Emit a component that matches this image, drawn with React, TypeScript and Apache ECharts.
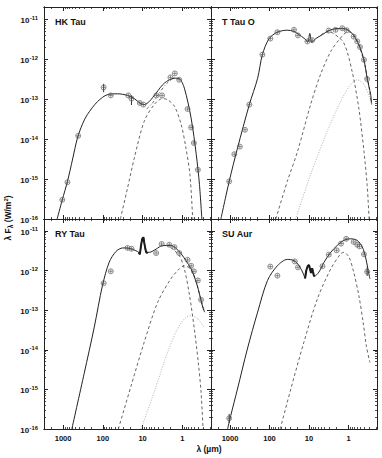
import React, { useEffect, useRef } from 'react';
import * as echarts from 'echarts';

// All values are [log10(λ / µm), log10(λFλ / W m^-2)]
const hkTauTotal = [
  [3.15, -16.0], [3.02, -15.52], [2.89, -15.06], [2.76, -14.5], [2.64, -13.98], [2.51, -13.62],
  [2.39, -13.39], [2.13, -13.06], [1.88, -12.89], [1.63, -12.87], [1.38, -12.91], [1.21, -12.99],
  [1.04, -13.12], [0.96, -13.14], [0.83, -13.06], [0.66, -12.85], [0.45, -12.6], [0.2, -12.48],
  [0.08, -12.49], [-0.05, -12.73], [-0.22, -13.48], [-0.35, -14.39], [-0.43, -15.14], [-0.49, -16.0],
];
const hkTauDisk = [
  [1.56, -16.0], [1.38, -15.23], [1.21, -14.48], [0.96, -13.56], [0.71, -13.14], [0.5, -12.99],
  [0.37, -13.02], [0.2, -13.18], [0.03, -13.64], [-0.09, -14.23], [-0.19, -14.89], [-0.26, -16.0],
];
const hkTauStar = [
  [0.9, -13.25], [0.75, -13.1], [0.6, -12.88], [0.4, -12.62], [0.2, -12.48], [0.05, -12.52],
];
const hkTauPoints = [
  [3.02, -15.52], [2.89, -15.08], [2.62, -13.92], [1.98, -12.71], [1.8, -12.91], [1.36, -12.91],
  [1.28, -12.99], [1.07, -13.1], [0.98, -13.14], [0.65, -12.91], [0.51, -12.91], [0.3, -12.46],
  [0.19, -12.36], [0.08, -12.52], [-0.13, -13.25], [-0.22, -13.71], [-0.29, -14.1], [-0.39, -14.77],
];
const hkTauErrors = [[1.98, -12.62, -12.83], [1.28, -12.91, -13.15]];

const tTauTotal = [
  [3.23, -16.0], [3.02, -15.06], [2.81, -14.23], [2.51, -13.14], [2.3, -12.48], [2.18, -11.89],
  [2.01, -11.49], [1.8, -11.33], [1.55, -11.28], [1.38, -11.31], [1.25, -11.39], [1.13, -11.48],
  [1.08, -11.52], [1.03, -11.58], [0.98, -11.36], [0.93, -11.58], [0.83, -11.49], [0.66, -11.39],
  [0.5, -11.29], [0.29, -11.24], [0.12, -11.24], [-0.01, -11.29], [-0.13, -11.41], [-0.26, -11.64],
  [-0.39, -12.02], [-0.47, -12.48], [-0.56, -12.89], [-0.58, -13.1],
];
const tTauStar = [
  [1.84, -16.0], [1.55, -15.06], [1.29, -14.31], [0.96, -13.14], [0.71, -12.39], [0.45, -11.81],
  [0.24, -11.52], [0.08, -11.35], [-0.05, -11.33], [-0.22, -11.56], [-0.39, -12.06], [-0.51, -12.64],
  [-0.58, -13.14],
];
const tTauEnvelope = [
  [0.7, -11.4], [0.55, -11.32], [0.4, -11.35], [0.12, -11.6], [-0.09, -12.31], [-0.26, -13.23],
  [-0.39, -14.31], [-0.47, -15.14], [-0.52, -16.0],
];
const tTauDotted = [
  [1.34, -16.0], [0.96, -14.89], [0.54, -13.81], [0.2, -13.06], [-0.05, -12.64], [-0.22, -12.52],
  [-0.39, -12.64], [-0.6, -13.14],
];
const tTauPoints = [
  [3.02, -15.06], [2.89, -14.38], [2.75, -14.19], [2.62, -13.77], [2.51, -13.14], [2.18, -11.89],
  [1.98, -11.49], [1.8, -11.33], [1.38, -11.27], [1.28, -11.41], [1.04, -11.56], [0.92, -11.53],
  [0.5, -11.29], [0.33, -11.27], [0.16, -11.23], [0.05, -11.28], [-0.13, -11.44], [-0.22, -11.56],
  [-0.29, -11.7], [-0.39, -12.02], [-0.47, -12.5],
];

const ryTauTotal = [
  [2.78, -16.0], [2.47, -14.6], [2.22, -13.45], [2.01, -12.38], [1.84, -11.79], [1.67, -11.52],
  [1.5, -11.43], [1.34, -11.44], [1.17, -11.5], [1.1, -11.54], [1.07, -11.59], [1.04, -11.37],
  [1.01, -11.2], [0.98, -11.16], [0.96, -11.29], [0.93, -11.46], [0.91, -11.54], [0.83, -11.54],
  [0.66, -11.46], [0.5, -11.37], [0.29, -11.37], [0.16, -11.44], [0.03, -11.58], [-0.09, -11.75],
  [-0.22, -11.96], [-0.35, -12.3], [-0.45, -12.67], [-0.51, -12.92], [-0.56, -13.05],
];
const ryTauFeature = [
  [1.1, -11.54], [1.07, -11.59], [1.04, -11.37], [1.01, -11.2], [0.98, -11.16], [0.96, -11.29],
  [0.93, -11.46], [0.91, -11.54], [0.87, -11.56],
];
const ryTauStar = [
  [1.61, -16.0], [1.29, -14.91], [0.96, -13.81], [0.62, -12.8], [0.29, -12.21], [0.08, -11.96],
  [-0.05, -11.88], [-0.22, -11.98], [-0.35, -12.3], [-0.45, -12.67], [-0.56, -13.05],
];
const ryTauEnvelope = [
  [0.3, -11.42], [0.08, -11.62], [-0.05, -11.96], [-0.18, -12.63], [-0.3, -13.47], [-0.4, -14.32],
  [-0.47, -15.07], [-0.52, -16.0],
];
const ryTauDotted = [
  [1.04, -16.0], [0.71, -15.07], [0.37, -14.06], [0.12, -13.47], [-0.09, -13.18], [-0.22, -13.14],
  [-0.39, -13.22], [-0.54, -13.43],
];
const ryTauPoints = [
  [1.98, -12.32], [1.8, -12.02], [1.38, -11.43], [1.28, -11.45], [0.66, -11.56], [0.52, -11.33],
  [0.33, -11.35], [0.2, -11.41], [0.08, -11.56], [-0.13, -11.73], [-0.22, -11.88], [-0.29, -12.02],
  [-0.39, -12.25], [-0.47, -12.74],
];

const suAurTotal = [
  [3.06, -16.0], [2.98, -15.66], [2.81, -14.99], [2.56, -13.98], [2.3, -13.05], [2.05, -12.25],
  [1.8, -11.88], [1.55, -11.72], [1.38, -11.75], [1.25, -11.88], [1.14, -12.09], [1.1, -12.2],
  [1.07, -12.0], [1.03, -11.88], [1.0, -11.86], [0.975, -11.96], [0.95, -12.06], [0.92, -11.94],
  [0.9, -12.03], [0.87, -12.15], [0.75, -12.04], [0.62, -11.79], [0.45, -11.54], [0.29, -11.37],
  [0.12, -11.24], [-0.05, -11.2], [-0.22, -11.24], [-0.35, -11.41], [-0.43, -11.66], [-0.49, -11.96],
  [-0.54, -12.21],
];
const suAurFeature = [
  [1.1, -12.2], [1.07, -12.0], [1.03, -11.88], [1.0, -11.86], [0.975, -11.96], [0.95, -12.06],
  [0.92, -11.94], [0.9, -12.03], [0.87, -12.15],
];
const suAurStar = [
  [1.73, -16.0], [1.46, -14.99], [1.13, -13.81], [0.79, -12.72], [0.45, -11.96], [0.2, -11.58],
  [0.12, -11.54], [-0.01, -11.66], [-0.13, -12.04], [-0.26, -12.63], [-0.37, -13.31], [-0.45, -13.9],
  [-0.54, -14.32],
];
const suAurPoints = [
  [3.02, -15.73], [1.98, -11.9], [1.8, -12.13], [1.36, -11.77], [1.28, -11.92], [0.66, -11.89],
  [0.5, -11.6], [0.3, -11.49], [0.19, -11.32], [0.06, -11.2], [-0.13, -11.28], [-0.22, -11.35],
  [-0.28, -11.39], [-0.39, -11.59], [-0.47, -12.03],
];
const suAurErrors = [[3.02, -15.62, -15.85], [-0.47, -11.92, -12.14]];

const xTickValues = [0, 1, 2, 3];
const xTickLabels = ['1', '10', '100', '1000'];
const yTickValues = [-16, -15, -14, -13, -12, -11];
const panelNames = ['HK Tau', 'T Tau O', 'RY Tau', 'SU Aur'];

const X_MIN = -0.72;
const X_MAX = 3.48;
const Y_MIN = -16;
const Y_MAX = -10.7;
const FONT = '"Liberation Sans", Arial, Helvetica, sans-serif';

function minorTicks(min: number, max: number) {
  const out: number[] = [];
  for (let d = Math.floor(min) - 1; d <= Math.ceil(max); d++) {
    for (let k = 2; k <= 9; k++) {
      const v = d + Math.log10(k);
      if (v > min && v < max) out.push(v);
    }
  }
  return out;
}

const STYLES: Record<string, any> = {
  total: { color: '#222', width: 1, type: 'solid' },
  dashed: { color: '#555', width: 0.9, type: [3, 2.5] },
  dashdot: { color: '#555', width: 0.9, type: [3, 2, 1, 2] },
  dotted: { color: '#a8a8a8', width: 0.9, type: [1, 1.5] },
  feature: { color: '#111', width: 2, type: 'solid' },
};

type Curve = { data: number[][]; style: string };
type Panel = {
  box: { left: number; top: number; width: number; height: number };
  showX: boolean;
  showY: boolean;
  curves: Curve[];
  points: number[][];
  errors: number[][];
};

const panels: Panel[] = [
  {
    box: { left: 44, top: 7, width: 167, height: 212 },
    showX: false,
    showY: true,
    curves: [
      { data: hkTauDisk, style: 'dashed' },
      { data: hkTauStar, style: 'dashdot' },
      { data: hkTauTotal, style: 'total' },
    ],
    points: hkTauPoints,
    errors: hkTauErrors,
  },
  {
    box: { left: 211, top: 7, width: 166, height: 212 },
    showX: false,
    showY: false,
    curves: [
      { data: tTauDotted, style: 'dotted' },
      { data: tTauStar, style: 'dashed' },
      { data: tTauEnvelope, style: 'dashed' },
      { data: tTauTotal, style: 'total' },
    ],
    points: tTauPoints,
    errors: [],
  },
  {
    box: { left: 44, top: 219, width: 167, height: 210 },
    showX: true,
    showY: true,
    curves: [
      { data: ryTauDotted, style: 'dotted' },
      { data: ryTauStar, style: 'dashed' },
      { data: ryTauEnvelope, style: 'dashed' },
      { data: ryTauTotal, style: 'total' },
      { data: ryTauFeature, style: 'feature' },
    ],
    points: ryTauPoints,
    errors: [],
  },
  {
    box: { left: 211, top: 219, width: 166, height: 210 },
    showX: true,
    showY: false,
    curves: [
      { data: suAurStar, style: 'dashed' },
      { data: suAurTotal, style: 'total' },
      { data: suAurFeature, style: 'feature' },
    ],
    points: suAurPoints,
    errors: suAurErrors,
  },
];

const MARKER = 'path://M0,-5A5,5,0,1,1,0,5A5,5,0,1,1,0,-5ZM-4.2,0L4.2,0M0,-4.2L0,4.2';

function buildOption() {
  const grid: any[] = [];
  const xAxis: any[] = [];
  const yAxis: any[] = [];
  const series: any[] = [];
  const graphic: any[] = [];
  const xMinor = minorTicks(X_MIN, X_MAX);
  const yMinor = minorTicks(Y_MIN, Y_MAX);
  const lineCol = '#222';

  panels.forEach((p, g) => {
    grid.push({ ...p.box, show: false });
    const baseX = {
      type: 'value', gridIndex: g, min: X_MIN, max: X_MAX, inverse: true,
      splitLine: { show: false },
      axisLine: { show: true, onZero: false, lineStyle: { color: lineCol, width: 1 } },
    };
    const baseY = {
      type: 'value', gridIndex: g, min: Y_MIN, max: Y_MAX,
      splitLine: { show: false },
      axisLine: { show: true, onZero: false, lineStyle: { color: lineCol, width: 1 } },
    };
    const majorX = { show: true, inside: true, length: 4, customValues: xTickValues, lineStyle: { color: lineCol, width: 1 } };
    const minorX = { show: true, inside: true, length: 2, customValues: xMinor, lineStyle: { color: lineCol, width: 0.8 } };
    const majorY = { show: true, inside: true, length: 4, customValues: yTickValues, lineStyle: { color: lineCol, width: 1 } };
    const minorY = { show: true, inside: true, length: 2, customValues: yMinor, lineStyle: { color: lineCol, width: 0.8 } };

    xAxis.push({
      ...baseX, position: 'bottom', axisTick: majorX,
      axisLabel: {
        show: p.showX, customValues: xTickValues, margin: 5,
        formatter: (v: number) => xTickLabels[xTickValues.indexOf(Math.round(v))] ?? '',
        color: '#111', fontSize: 7.5, fontWeight: 'bold', fontFamily: FONT,
      },
    });
    xAxis.push({ ...baseX, position: 'top', axisTick: majorX, axisLabel: { show: false } });
    xAxis.push({ ...baseX, position: 'bottom', axisTick: minorX, axisLabel: { show: false } });
    xAxis.push({ ...baseX, position: 'top', axisTick: minorX, axisLabel: { show: false } });

    yAxis.push({
      ...baseY, position: 'left', axisTick: majorY,
      axisLabel: {
        show: p.showY, customValues: yTickValues, margin: 6,
        formatter: (v: number) => `{a|10}{b|${Math.round(v)}}`,
        rich: {
          a: { fontSize: 8, fontWeight: 'bold', fontFamily: FONT, color: '#111', lineHeight: 9, padding: [3, 0, 0, 0] },
          b: { fontSize: 5.8, fontWeight: 'bold', fontFamily: FONT, color: '#111', lineHeight: 6, padding: [0, 0, 3, 0.5] },
        },
      },
    });
    yAxis.push({ ...baseY, position: 'right', axisTick: majorY, axisLabel: { show: false } });
    yAxis.push({ ...baseY, position: 'left', axisTick: minorY, axisLabel: { show: false } });
    yAxis.push({ ...baseY, position: 'right', axisTick: minorY, axisLabel: { show: false } });

    const ax = 4 * g;
    p.curves.forEach((c) => {
      series.push({
        type: 'line', xAxisIndex: ax, yAxisIndex: ax, data: c.data,
        showSymbol: false, symbol: 'none', smooth: c.style === 'feature' ? false : 0.3,
        lineStyle: STYLES[c.style], silent: true, clip: true, z: c.style === 'total' ? 3 : 2,
      });
    });
    if (p.errors.length) {
      series.push({
        type: 'custom', xAxisIndex: ax, yAxisIndex: ax, data: p.errors, silent: true,
        encode: { x: 0, y: [1, 2] }, z: 4,
        renderItem: (_params: any, api: any) => {
          const a = api.coord([api.value(0), api.value(1)]);
          const b = api.coord([api.value(0), api.value(2)]);
          return { type: 'line', shape: { x1: a[0], y1: a[1], x2: b[0], y2: b[1] }, style: { stroke: '#333', lineWidth: 1 } };
        },
      });
    }
    series.push({
      type: 'scatter', xAxisIndex: ax, yAxisIndex: ax, data: p.points, silent: true,
      symbol: MARKER, symbolSize: 5, z: 5,
      itemStyle: { color: 'rgba(255,255,255,0)', borderColor: '#555', borderWidth: 0.8 },
    });

    graphic.push({
      type: 'text', x: p.box.left + 11, y: p.box.top + 15,
      style: { text: panelNames[g], font: `bold 9px ${FONT}`, fill: '#111', align: 'left', verticalAlign: 'middle', textAlign: 'left', textVerticalAlign: 'middle' },
    });
  });

  graphic.push({
    type: 'text', x: 8, y: 218, rotation: Math.PI / 2,
    style: {
      text: '{a|λ F}{s|λ}{a| (W/m}{p|2}{a|)}',
      align: 'center', verticalAlign: 'middle', textAlign: 'center', textVerticalAlign: 'middle',
      rich: {
        a: { fontSize: 8.5, fontWeight: 'bold', fontFamily: FONT, fill: '#111', color: '#111', lineHeight: 10 },
        s: { fontSize: 6.5, fontWeight: 'bold', fontFamily: FONT, fill: '#111', color: '#111', lineHeight: 7, padding: [4, 0, 0, 0] },
        p: { fontSize: 6, fontWeight: 'bold', fontFamily: FONT, fill: '#111', color: '#111', lineHeight: 6, padding: [0, 0, 4, 0] },
      },
    },
  });
  graphic.push({
    type: 'text', x: 209, y: 449,
    style: { text: 'λ (µm)', font: `bold 8.5px ${FONT}`, fill: '#111', align: 'center', verticalAlign: 'middle', textAlign: 'center', textVerticalAlign: 'middle' },
  });

  return { animation: false, backgroundColor: '#ffffff', grid, xAxis, yAxis, series, graphic };
}

export default function App() {
  const ref = useRef<HTMLDivElement>(null);
  useEffect(() => {
    if (!ref.current) return;
    const chart = echarts.init(ref.current, undefined, { renderer: 'svg' });
    chart.setOption(buildOption() as any);
    return () => chart.dispose();
  }, []);
  return <div ref={ref} style={{ position: 'fixed', left: 0, top: 0, width: 382, height: 458, background: '#fff' }} />;
}
